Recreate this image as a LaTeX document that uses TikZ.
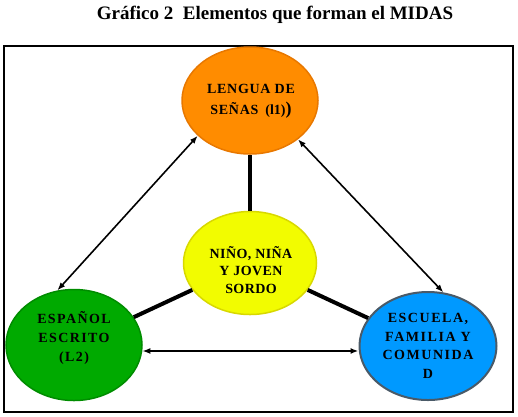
\documentclass[tikz,border=0pt]{standalone}
\usepackage{fontspec}
\setmainfont{Liberation Serif}
\newfontfamily\spA{Liberation Serif}[LetterSpace=5]
\newfontfamily\spB{Liberation Serif}[LetterSpace=11]
\newfontfamily\spC{Liberation Serif}[LetterSpace=10]
\newfontfamily\spD{Liberation Serif}[LetterSpace=3]
\usetikzlibrary{shapes.geometric,arrows.meta,calc}
\definecolor{cOrange}{HTML}{FF8C00}
\definecolor{cOrangeB}{HTML}{E87800}
\definecolor{cYellow}{HTML}{F2FC00}
\definecolor{cYellowB}{HTML}{D8D800}
\definecolor{cGreen}{HTML}{00AA00}
\definecolor{cGreenB}{HTML}{008C00}
\definecolor{cBlue}{HTML}{0099FF}
\definecolor{cBlueB}{HTML}{4A5A68}
\begin{document}
\begin{tikzpicture}[x=1pt,y=-1pt,
  blob/.style={ellipse, line width=1.5pt, inner sep=0pt, minimum width=136pt},
  thickline/.style={line width=4pt},
  twoway/.style={{Latex[length=8pt,width=6pt]}-{Latex[length=8pt,width=6pt]}, line width=1.6pt},
  lbl/.style={font=\bfseries\fontsize{14}{19}\selectfont, align=center, inner sep=0pt},
  frame/.style={draw, line width=2pt}]
\useasboundingbox (0,0) rectangle (518,416);
\node[font=\bfseries\fontsize{19}{22}\selectfont, inner sep=0pt] (title) at (275,15) {Gráfico 2\ \ Elementos que forman el MIDAS};
\node[frame, minimum width=509pt, minimum height=366pt, inner sep=0pt] (box) at (258.5,229) {};
\node[blob, fill=cOrange, draw=cOrangeB, minimum height=107pt] (lengua) at (250,100.5) {};
\node[blob, fill=cYellow, draw=cYellowB, minimum width=133pt, minimum height=103pt] (nino) at (250,263) {};
\node[blob, fill=cGreen, draw=cGreenB, minimum height=111pt] (espanol) at (74,345) {};
\node[blob, fill=cBlue, draw=cBlueB, minimum width=137pt, minimum height=108pt, line width=2pt] (escuela) at (428,346) {};
\draw[thickline] (lengua) -- (nino);
\draw[thickline] (nino) -- (espanol);
\draw[thickline] (nino) -- (escuela);
\draw[twoway] (lengua.214) -- (espanol.107);
\draw[twoway] (lengua.321) -- (escuela.74);
\draw[twoway] (espanol.-5) -- (espanol.-5 -| escuela.west);
\node[lbl, font=\bfseries\fontsize{14}{21}\selectfont] (tlengua) at (251,101) {{\spA LENGUA DE}\\{\spA SEÑAS}\ \ (l1){\fontsize{18}{18}\selectfont)}};
\node[lbl, font=\bfseries\fontsize{14}{17.5}\selectfont] (tnino) at (251,270) {{\spD NIÑO, NIÑA}\\{\spD Y JOVEN}\\{\spD SORDO}};
\node[lbl] (tespanol) at (74,338) {{\spC ESPAÑOL}\\{\spC ESCRITO}\\{\spC (L2)}};
\node[lbl, font=\bfseries\fontsize{14}{18.7}\selectfont] (tescuela) at (428,346) {{\spB ESCUELA,}\\{\spB FAMILIA Y}\\{\spB COMUNIDA}\\{\spB D}};
\end{tikzpicture}
\end{document}
